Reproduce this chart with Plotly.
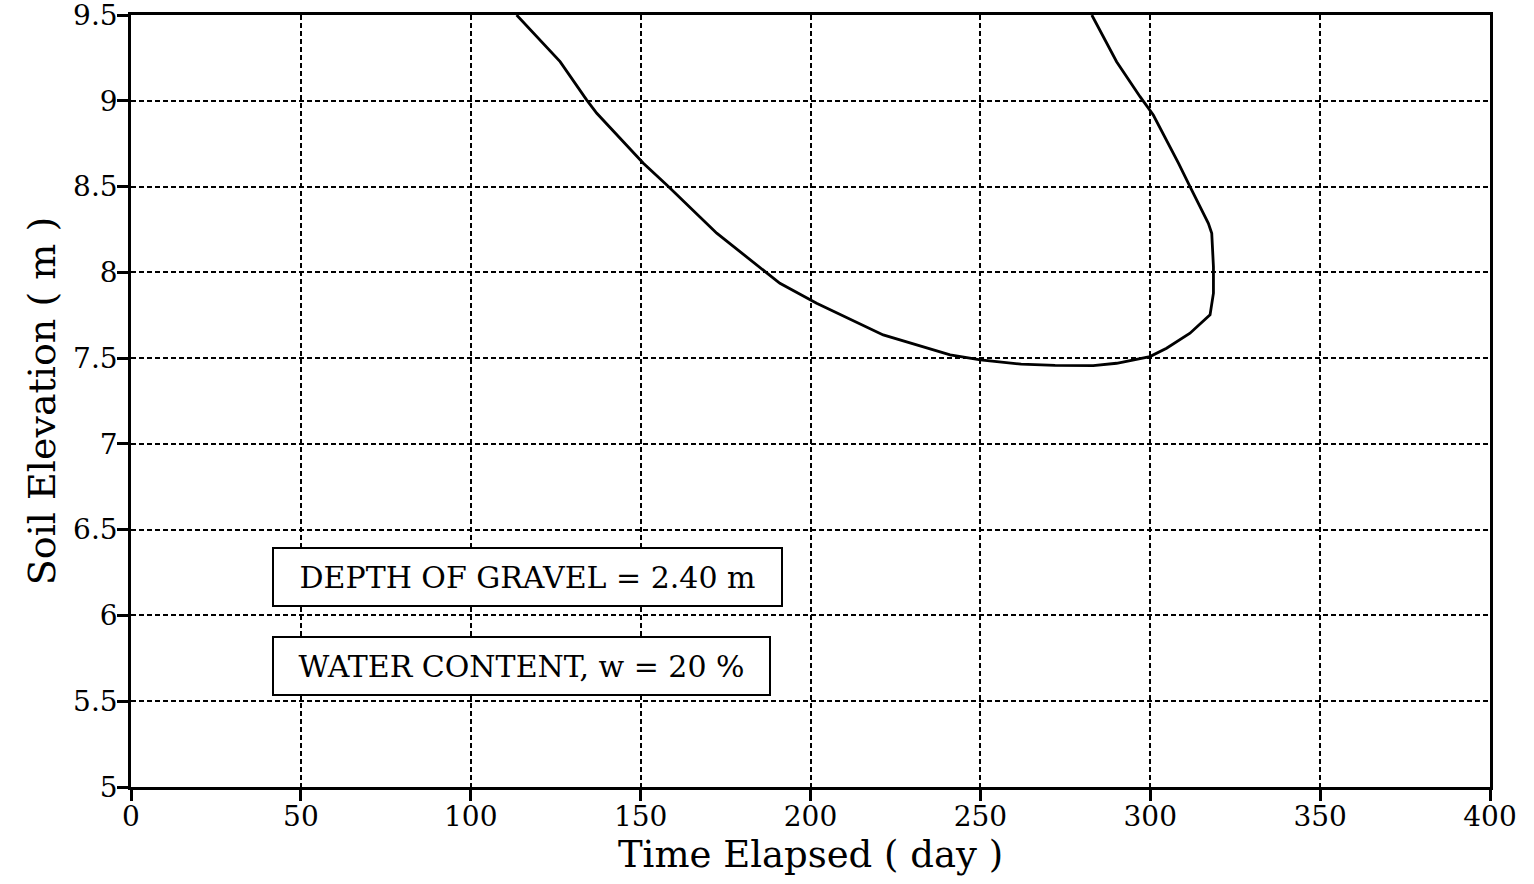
import plotly.graph_objects as go

# curve (time in days, elevation in m)
time_days = [113.5, 123.3, 126.3, 134.1, 137.1, 150.8, 157.7, 172.4, 182.2,
             191.0, 201.8, 221.4, 241.1, 250.0, 262.0, 272.0, 283.2, 290.1,
             299.9, 304.8, 311.7, 317.6, 318.6, 318.6, 318.1, 317.1, 311.7,
             308.3, 300.9, 297.0, 290.1, 282.8]
elevation = [9.5, 9.296, 9.228, 9.005, 8.927, 8.636, 8.509, 8.228, 8.072,
             7.936, 7.820, 7.635, 7.519, 7.49, 7.465, 7.458, 7.456, 7.470,
             7.509, 7.558, 7.645, 7.752, 7.878, 8.033, 8.228, 8.286, 8.5,
             8.636, 8.917, 9.024, 9.228, 9.5]

x_ticks = [0, 50, 100, 150, 200, 250, 300, 350, 400]
y_ticks = [5, 5.5, 6, 6.5, 7, 7.5, 8, 8.5, 9, 9.5]
y_tick_text = ["5", "5.5", "6", "6.5", "7", "7.5", "8", "8.5", "9", "9.5"]

notes = ["DEPTH OF GRAVEL = 2.40 m", "WATER CONTENT, w = 20 %"]

serif = "DejaVu Serif, Liberation Serif, serif"

fig = go.Figure()
fig.add_trace(go.Scatter(
    x=time_days, y=elevation, mode="lines",
    line=dict(color="black", width=2.8),
    showlegend=False,
))

axis_common = dict(
    showline=True, linecolor="black", linewidth=2.5, mirror=True,
    ticks="outside", ticklen=11, tickwidth=2.5, tickcolor="black",
    showgrid=True, gridcolor="black", gridwidth=2, griddash="5px,3px",
    zeroline=False, automargin=False, ticklabeloverflow="allow",
    tickfont=dict(family=serif, size=28, color="black"),
)

fig.update_xaxes(range=[0, 400], tickvals=x_ticks, ticklabelstandoff=-8,
                 title=dict(text="Time Elapsed ( day )",
                            font=dict(family=serif, size=37, color="black"),
                            standoff=4),
                 **axis_common)
fig.update_yaxes(range=[5, 9.5], tickvals=y_ticks, ticktext=y_tick_text,
                 ticklabelstandoff=-6,
                 title=dict(text="Soil Elevation ( m )",
                            font=dict(family=serif, size=38, color="black"),
                            standoff=6),
                 **axis_common)

fig.add_annotation(x=41.5, y=6.222, xanchor="left", yanchor="middle",
                   text=notes[0], showarrow=False,
                   font=dict(family=serif, size=30, color="black"),
                   bgcolor="white", bordercolor="black", borderwidth=2,
                   width=505, height=54, align="center")
fig.add_annotation(x=41.5, y=5.706, xanchor="left", yanchor="middle",
                   text=notes[1], showarrow=False,
                   font=dict(family=serif, size=30, color="black"),
                   bgcolor="white", bordercolor="black", borderwidth=2,
                   width=493, height=54, align="center")

fig.update_layout(
    width=1534, height=884,
    margin=dict(l=131, r=44, t=15, b=97),
    plot_bgcolor="white", paper_bgcolor="white",
)

# drop the default page margin so the figure sits at the window corner
fig.write_html("out.html", config={"displayModeBar": False},
               post_script="document.body.style.margin = '0';")
